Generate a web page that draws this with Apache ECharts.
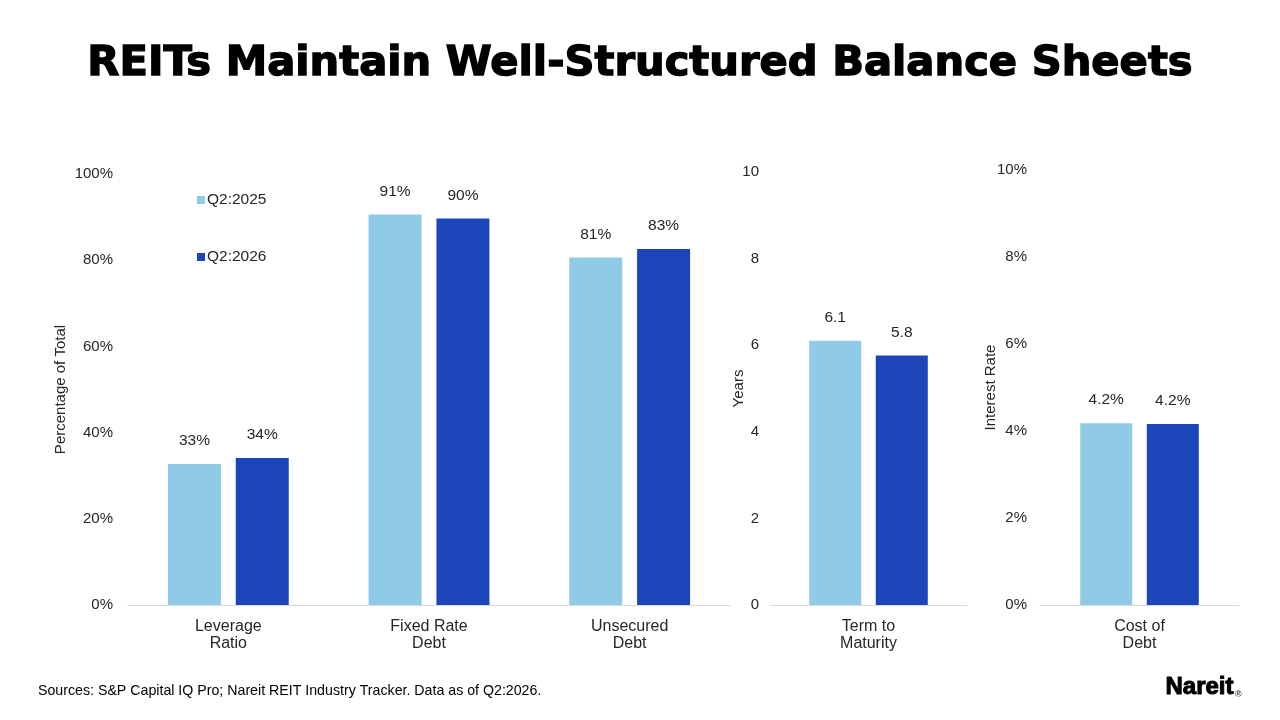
<!DOCTYPE html>
<html>
<head>
<meta charset="utf-8">
<script src="https://cdn.jsdelivr.net/npm/echarts@6/dist/echarts.min.js"></script>
<style>
html,body{margin:0;padding:0;background:#fff;}
#main{width:1280px;height:720px;}
</style>
</head>
<body>
<div id="main"></div>
<script>
// data
var seriesNames = ['Q2:2025', 'Q2:2026'];
var balanceCats = ['Leverage\nRatio', 'Fixed Rate\nDebt', 'Unsecured\nDebt'];
var balance2025 = [32.7, 90.6, 80.6];
var balance2026 = [34.1, 89.7, 82.6];
var termCats = ['Term to\nMaturity'];
var term2025 = [6.1];
var term2026 = [5.76];
var costCats = ['Cost of\nDebt'];
var cost2025 = [4.18];
var cost2026 = [4.16];

var LIGHT = '#8fcae7';
var DARK = '#1b45b9';
var TXT = '#262626';
var FONT = '"Liberation Sans", Arial, sans-serif';

function xAxisOf(idx, cats)
{
	return {
		type : 'category',
		gridIndex : idx,
		data : cats,
		axisLine : { lineStyle : { color : '#d9d9d9', width : 1 } },
		axisTick : { show : false },
		axisLabel : { color : TXT, fontSize : 16, fontFamily : FONT, lineHeight : 17, margin : 13 }
	};
}

function yAxisOf(idx, max, interval, fmt, name, gap, margin)
{
	return {
		type : 'value',
		gridIndex : idx,
		min : 0,
		max : max,
		interval : interval,
		name : name,
		nameLocation : 'middle',
		nameGap : gap,
		nameMoveOverlap : false,
		nameTextStyle : { color : TXT, fontSize : 15, fontFamily : FONT },
		splitLine : { show : false },
		axisLine : { show : false },
		axisTick : { show : false },
		axisLabel : { color : TXT, fontSize : 15, fontFamily : FONT, margin : margin, formatter : fmt }
	};
}

function barOf(name, idx, data, color, width, fmt)
{
	return {
		name : name,
		type : 'bar',
		xAxisIndex : idx,
		yAxisIndex : idx,
		data : data,
		barWidth : width,
		barGap : '28%',
		itemStyle : { color : color },
		label : {
			show : true,
			position : 'top',
			distance : 15,
			color : TXT,
			fontSize : 15.5,
			fontFamily : FONT,
			formatter : fmt
		}
	};
}

var pctRound = function (p) { return Math.round(p.value) + '%'; };
var oneDec = function (p) { return p.value.toFixed(1); };
var oneDecPct = function (p) { return p.value.toFixed(1) + '%'; };

var option = {
	backgroundColor : '#fff',
	animation : false,
	textStyle : { fontFamily : FONT },
	title : {
		text : 'REITs Maintain Well-Structured Balance Sheets',
		left : 'center',
		top : 38,
		textStyle : {
			fontSize : 41.7,
			fontWeight : 'bold',
			color : '#000',
			fontFamily : '"DejaVu Sans", sans-serif',
			textBorderColor : '#000',
			textBorderWidth : 1.4
		}
	},
	legend : {
		data : seriesNames,
		orient : 'vertical',
		left : 192,
		top : 187,
		itemGap : 41,
		itemWidth : 8,
		itemHeight : 8,
		icon : 'rect',
		textStyle : { color : TXT, fontSize : 15.5, fontFamily : FONT, padding : [0, 0, 0, -3] }
	},
	grid : [
		{ left : 128, top : 174, width : 602, height : 431 },
		{ left : 770, top : 172, width : 197, height : 433 },
		{ left : 1040, top : 170, width : 199, height : 435 }
	],
	xAxis : [
		xAxisOf(0, balanceCats),
		xAxisOf(1, termCats),
		xAxisOf(2, costCats)
	],
	yAxis : [
		yAxisOf(0, 100, 20, '{value}%', 'Percentage of Total', 60, 15),
		yAxisOf(1, 10, 2, '{value}', 'Years', 24, 11),
		yAxisOf(2, 10, 2, '{value}%', 'Interest Rate', 42, 13)
	],
	series : [
		barOf(seriesNames[0], 0, balance2025, LIGHT, 53, pctRound),
		barOf(seriesNames[1], 0, balance2026, DARK, 53, pctRound),
		barOf(seriesNames[0], 1, term2025, LIGHT, 52, oneDec),
		barOf(seriesNames[1], 1, term2026, DARK, 52, oneDec),
		barOf(seriesNames[0], 2, cost2025, LIGHT, 52, oneDecPct),
		barOf(seriesNames[1], 2, cost2026, DARK, 52, oneDecPct)
	],
	graphic : [
		{
			type : 'text',
			left : 38,
			top : 684,
			style : {
				text : 'Sources: S&P Capital IQ Pro; Nareit REIT Industry Tracker. Data as of Q2:2026.',
				fill : '#000',
				font : '14.2px ' + FONT
			}
		},
		{
			type : 'text',
			left : 1165,
			top : 675,
			style : {
				text : 'Nareit',
				fill : '#000',
				font : 'bold 24px ' + FONT,
				stroke : '#000',
				lineWidth : 1
			}
		},
		{
			type : 'text',
			left : 1235,
			top : 690,
			style : {
				text : '®',
				fill : '#444',
				font : 'bold 9px ' + FONT
			}
		}
	]
};

var myChart = echarts.init(document.getElementById('main'));
myChart.setOption(option);
</script>
</body>
</html>
